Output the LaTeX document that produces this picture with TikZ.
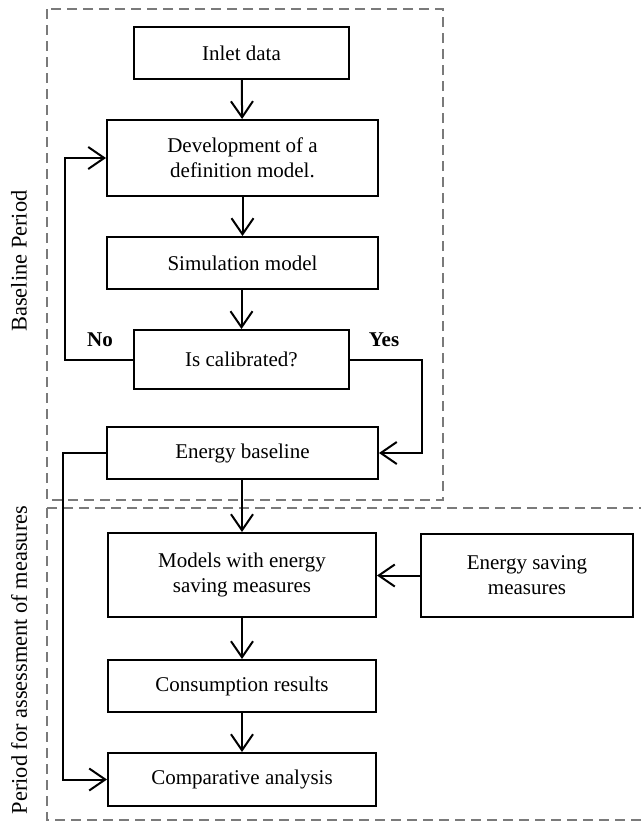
\documentclass[tikz,border=0pt]{standalone}
\usepackage{fontspec}
\setmainfont{Liberation Serif}
\usepackage{tikz}
\usetikzlibrary{arrows.meta, positioning}
\definecolor{framegray}{HTML}{7A7A7A}
\tikzset{
  stepbox/.style={draw=black, line width=1pt, align=center, inner sep=2pt,
    font=\fontsize{10.5}{12.5}\selectfont},
  flow/.style={line width=1pt, -{Straight Barb[length=8pt,width=11pt,line width=1pt]}},
  phase/.style={draw=framegray, line width=1pt, dash pattern=on 5pt off 3pt},
  phaselabel/.style={rotate=90, font=\fontsize{11.2}{13}\selectfont},
  answer/.style={anchor=base, font=\fontsize{10.5}{12.5}\selectfont\bfseries}
}

\begin{document}
\begin{tikzpicture}[x=0.5pt, y=-0.5pt]
    \useasboundingbox (0,0) rectangle (641,821);

    % Phases
    \draw[phase] (47,9) rectangle (443,500);
    \draw[phase] (47,508) rectangle (660,820);
    \node[phaselabel] (lblbase) at (19,261) {Baseline Period};
    \node[phaselabel] (lblassess) at (19,660) {Period for assessment of measures};

    % Baseline period
    \node[stepbox, minimum width=107.5pt, minimum height=26pt] (inlet) at (241.5,53) {Inlet data};
    \node[stepbox, minimum width=135.5pt, minimum height=38pt] (devel) at (242.5,158) {Development of a\\definition model.};
    \node[stepbox, minimum width=135.5pt, minimum height=26pt] (simul) at (242.5,263) {Simulation model};
    \node[stepbox, minimum width=107.5pt, minimum height=29.5pt] (calib) at (241.5,359.5) {Is calibrated?};
    \node[stepbox, minimum width=135.5pt, minimum height=26pt] (baseline) at (242.5,453) {Energy baseline};
    \node[answer] (no) at (100,346) {No};
    \node[answer] (yes) at (384,346) {Yes};

    % Assessment period
    \node[stepbox, minimum width=134pt, minimum height=42pt] (models) at (242,575) {Models with energy\\saving measures};
    \node[stepbox, minimum width=106pt, minimum height=41.5pt] (saving) at (527,575.5) {Energy saving\\measures};
    \node[stepbox, minimum width=134pt, minimum height=26pt] (consum) at (242,686) {Consumption results};
    \node[stepbox, minimum width=134pt, minimum height=26.5pt] (compar) at (242,779.5) {Comparative analysis};

    % Connectors
    \coordinate (noturn) at (65,359.5);
    \coordinate (yesturn) at (422,359.5);
    \coordinate (sideturn) at (63,453);
    \draw[flow] (inlet) -- (devel);
    \draw[flow] (devel.south -| simul.north) -- (simul);
    \draw[flow] (simul.south -| calib.north) -- (calib);
    \draw[flow] (calib.west) -- (noturn) |- (devel.west);
    \draw[flow] (calib.east) -- (yesturn) |- (baseline.east);
    \draw[flow] (baseline.south -| models.north) -- (models);
    \draw[flow] (saving.west) -- (saving.west -| models.east);
    \draw[flow] (models) -- (consum);
    \draw[flow] (consum) -- (compar);
    \draw[flow] (baseline.west) -- (sideturn) |- (compar.west);
\end{tikzpicture}
\end{document}
